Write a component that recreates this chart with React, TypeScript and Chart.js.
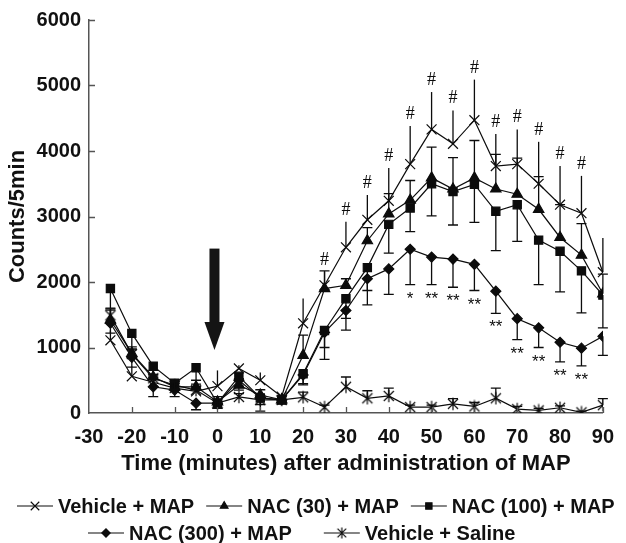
import React, { useEffect, useRef } from 'react';
import { Chart, registerables } from 'chart.js';
import { drawPoint } from 'chart.js/helpers';

Chart.register(...registerables);

// ---------------- data ----------------
const timePoints = [-25, -20, -15, -10, -5, 0, 5, 10, 15, 20, 25, 30, 35, 40, 45, 50, 55, 60, 65, 70, 75, 80, 85, 90];

const seriesLabels = ['Vehicle + MAP', 'NAC (30) + MAP', 'NAC (100) + MAP', 'NAC (300) + MAP', 'Vehicle + Saline'];

const vehicleMap = [1110, 560, 470, 380, 330, 410, 680, 500, 250, 1370, 1950, 2530, 2950, 3240, 3800, 4330, 4110, 4470, 3770, 3800, 3500, 3180, 3050, 2150];
const vehicleMapErr = [150, 150, 150, 100, 150, 240, 50, 120, 60, 380, 210, 390, 380, 500, 580, 570, 510, 620, 490, 530, 640, 590, 570, 520];

const nac30 = [1420, 910, 550, 400, 400, 170, 425, 275, 200, 880, 1900, 1950, 2630, 3040, 3250, 3590, 3420, 3590, 3420, 3340, 3110, 2680, 2410, 1820];
const nac30Err = [150, 100, 100, 80, 100, 80, 100, 80, 60, 310, 270, 100, 200, 310, 300, 470, 480, 570, 530, 550, 500, 500, 480, 300];

const nac100 = [1900, 1215, 715, 455, 690, 150, 560, 230, 200, 600, 1260, 1745, 2220, 2880, 3130, 3500, 3380, 3490, 3080, 3180, 2640, 2470, 2170, 1800];
const nac100Err = [300, 250, 150, 100, 250, 80, 150, 100, 60, 150, 440, 300, 350, 440, 360, 490, 510, 580, 600, 560, 680, 620, 640, 500];

const nac300 = [1370, 850, 400, 350, 150, 150, 500, 230, 200, 580, 1230, 1565, 2050, 2200, 2500, 2380, 2350, 2270, 1860, 1440, 1300, 1080, 990, 1170];
const nac300Err = [150, 150, 150, 100, 100, 80, 150, 200, 60, 150, 230, 300, 400, 390, 540, 420, 430, 400, 340, 320, 300, 300, 270, 290];

const saline = [1490, 900, 530, 425, 350, 150, 245, 200, 200, 240, 90, 400, 225, 260, 90, 90, 140, 100, 225, 60, 40, 80, 10, 120];
const salineErr = [100, 80, 60, 50, 50, 50, 50, 50, 50, 80, 30, 150, 115, 120, 30, 30, 80, 60, 155, 40, 30, 30, 20, 100];

// significance marks
const hashTimes = [25, 30, 35, 40, 45, 50, 55, 60, 65, 70, 75, 80, 85];
const starTimes = [45, 50, 55, 60, 65, 70, 75, 80, 85];
const starLabels = ['*', '**', '**', '**', '**', '**', '**', '**', '**'];

// injection arrow (time, counts)
const arrowTime = -0.7;
const arrowTop = 2510;
const arrowBottom = 960;

const xTitle = 'Time (minutes) after administration of MAP';
const yTitle = 'Counts/5min';

// ---------------- styles ----------------
const INK = '#0c0c0c';
const TEXT = '#111111';
const AXIS = '#555555';
const FAMILY = '"Liberation Sans", Arial, Helvetica, sans-serif';

function makeSalineMarker(size: number): HTMLCanvasElement {
  const c = document.createElement('canvas');
  c.width = size;
  c.height = size;
  const g = c.getContext('2d')!;
  const m = size / 2;
  const d = size * 0.36;
  g.strokeStyle = INK;
  g.lineWidth = 1.2;
  g.beginPath();
  g.moveTo(m - d, m - d); g.lineTo(m + d, m + d);
  g.moveTo(m + d, m - d); g.lineTo(m - d, m + d);
  g.moveTo(m, m - d * 1.25); g.lineTo(m, m + d * 1.25);
  g.stroke();
  return c;
}

export default function App() {
  const ref = useRef<HTMLCanvasElement>(null);

  useEffect(() => {
    const canvas = ref.current!;
    Chart.defaults.font.family = FAMILY;
    const salineMarker = makeSalineMarker(14);
    const salineLegendMarker = makeSalineMarker(12);

    const mk = (i: number, values: number[], errs: number[], dir: number, caps: boolean, style: any, radius: number, legendStyle: any, legendRadius: number) => ({
      label: seriesLabels[i],
      data: timePoints.map((t, k) => ({ x: t, y: values[k] })),
      errors: errs,
      errorDir: dir,
      errorCaps: caps,
      legendStyle,
      legendRadius,
      borderColor: INK,
      backgroundColor: INK,
      borderWidth: 1.2,
      pointStyle: style,
      pointRadius: radius,
      pointBorderWidth: 1.2,
      pointBackgroundColor: INK,
      pointBorderColor: INK,
      tension: 0,
      fill: false,
    });

    const datasets: any[] = [
      mk(0, vehicleMap, vehicleMapErr, 1, false, 'crossRot', 7, 'crossRot', 6),
      mk(1, nac30, nac30Err, 1, true, 'triangle', 6, 'triangle', 4.5),
      mk(2, nac100, nac100Err, -1, true, 'rect', 5.8, 'rect', 4.5),
      mk(3, nac300, nac300Err, -1, true, 'rectRot', 5, 'rectRot', 4.2),
      mk(4, saline, salineErr, 1, true, salineMarker, 7, salineLegendMarker, 6),
    ];

    const errorBars = {
      id: 'errorBars',
      afterDatasetsDraw(chart: any) {
        const { ctx, scales } = chart;
        const xs = scales.x, ys = scales.y;
        ctx.save();
        ctx.strokeStyle = INK;
        ctx.lineWidth = 1.3;
        chart.data.datasets.forEach((ds: any) => {
          ds.data.forEach((p: any, i: number) => {
            const e = ds.errors[i];
            if (!e) return;
            const px = xs.getPixelForValue(p.x);
            const y0 = ys.getPixelForValue(p.y);
            const y1 = ys.getPixelForValue(Math.max(0, p.y + ds.errorDir * e));
            ctx.beginPath();
            ctx.moveTo(px, y0);
            ctx.lineTo(px, y1);
            if (ds.errorCaps) {
              ctx.moveTo(px - 5, y1);
              ctx.lineTo(px + 5, y1);
            }
            ctx.stroke();
          });
        });
        ctx.restore();
      },
    };

    const annotations = {
      id: 'annotations',
      afterDatasetsDraw(chart: any) {
        const { ctx, scales } = chart;
        const xs = scales.x, ys = scales.y;
        ctx.save();
        ctx.fillStyle = INK;
        ctx.textAlign = 'center';
        ctx.textBaseline = 'alphabetic';
        // # over Vehicle + MAP
        ctx.font = '18px "Liberation Serif", "Times New Roman", serif';
        hashTimes.forEach((t) => {
          const k = timePoints.indexOf(t);
          const top = ys.getPixelForValue(vehicleMap[k] + vehicleMapErr[k]);
          ctx.fillText('#', xs.getPixelForValue(t), top - 7);
        });
        // * under NAC (300) + MAP
        ctx.font = '17px "Liberation Sans", Arial, sans-serif';
        starTimes.forEach((t, j) => {
          const k = timePoints.indexOf(t);
          const bottom = ys.getPixelForValue(nac300[k] - nac300Err[k]);
          ctx.fillText(starLabels[j], xs.getPixelForValue(t), bottom + 19);
        });
        // arrow
        const ax = xs.getPixelForValue(arrowTime);
        const aTop = ys.getPixelForValue(arrowTop);
        const aBot = ys.getPixelForValue(arrowBottom);
        const headLen = 28;
        ctx.fillStyle = '#141414';
        ctx.fillRect(ax - 5, aTop, 10, aBot - aTop - headLen + 1);
        ctx.beginPath();
        ctx.moveTo(ax - 10, aBot - headLen);
        ctx.lineTo(ax + 10, aBot - headLen);
        ctx.lineTo(ax, aBot);
        ctx.closePath();
        ctx.fill();
        ctx.restore();
      },
    };

    const tickMarks = {
      id: 'tickMarks',
      afterDraw(chart: any) {
        const { ctx, scales, chartArea } = chart;
        ctx.save();
        ctx.strokeStyle = AXIS;
        ctx.lineWidth = 1.3;
        ctx.beginPath();
        scales.y.ticks.forEach((t: any) => {
          if (t.value === 0) return;
          const py = Math.round(scales.y.getPixelForValue(t.value)) + 0.5;
          ctx.moveTo(chartArea.left, py);
          ctx.lineTo(chartArea.left + 6, py);
        });
        scales.x.ticks.forEach((t: any) => {
          if (t.value === scales.x.min) return;
          const px = Math.round(scales.x.getPixelForValue(t.value)) + 0.5;
          ctx.moveTo(px, chartArea.bottom);
          ctx.lineTo(px, chartArea.bottom - 6);
        });
        ctx.stroke();
        ctx.restore();
      },
    };

    const legendRows = [
      { items: [0, 1, 2], start: 17, y: 506, gap: 12 },
      { items: [3, 4], start: 88, y: 533, gap: 32 },
    ];

    const legendPlugin = {
      id: 'customLegend',
      afterDraw(chart: any) {
        const { ctx } = chart;
        ctx.save();
        ctx.font = `bold 20px ${FAMILY}`;
        ctx.textBaseline = 'middle';
        ctx.textAlign = 'left';
        legendRows.forEach((row) => {
          let x = row.start;
          row.items.forEach((idx) => {
            const ds: any = chart.data.datasets[idx];
            ctx.strokeStyle = INK;
            ctx.lineWidth = 1.1;
            ctx.beginPath();
            ctx.moveTo(x, row.y);
            ctx.lineTo(x + 36, row.y);
            ctx.stroke();
            ctx.fillStyle = INK;
            drawPoint(ctx, { pointStyle: ds.legendStyle, radius: ds.legendRadius, rotation: 0, borderWidth: 1.1 } as any, x + 18, row.y);
            ctx.fillStyle = TEXT;
            ctx.fillText(ds.label, x + 41, row.y + 1);
            x += 41 + ctx.measureText(ds.label).width + row.gap;
          });
        });
        ctx.restore();
      },
    };

    const tickFont = { size: 20, weight: 'bold' as const, family: FAMILY };
    const plain = (v: any) => String(v);

    const chart = new Chart(canvas, {
      type: 'line',
      data: { datasets },
      options: {
        animation: false,
        responsive: false,
        layout: { padding: { left: 0, right: 13, top: 19, bottom: 60 } },
        plugins: { legend: { display: false }, tooltip: { enabled: false } },
        scales: {
          x: {
            type: 'linear',
            min: -30,
            max: 90,
            ticks: { stepSize: 10, font: tickFont, color: TEXT, padding: 12, maxRotation: 0, callback: plain },
            grid: { display: true, drawOnChartArea: false, drawTicks: false },
            border: { display: true, color: AXIS, width: 1.5 },
            title: { display: true, text: xTitle, color: TEXT, font: { size: 22, weight: 'bold', family: FAMILY }, padding: { top: 0, bottom: 6 } },
            afterFit: (s: any) => { s.height = 70; },
          },
          y: {
            min: 0,
            max: 6000,
            ticks: { stepSize: 1000, font: tickFont, color: TEXT, padding: 8, callback: plain },
            grid: { display: true, drawOnChartArea: false, drawTicks: false },
            border: { display: true, color: AXIS, width: 1.5 },
            title: { display: true, text: yTitle, color: TEXT, font: { size: 22, weight: 'bold', family: FAMILY }, padding: { top: 5, bottom: 0 } },
            afterFit: (s: any) => { s.width = 89; },
          },
        },
      } as any,
      plugins: [errorBars, annotations, tickMarks, legendPlugin],
    });

    return () => chart.destroy();
  }, []);

  return (
    <div style={{ position: 'fixed', left: 0, top: 0, width: 626, height: 543, background: '#ffffff' }}>
      <canvas ref={ref} width={626} height={543} style={{ display: 'block' }} />
    </div>
  );
}
